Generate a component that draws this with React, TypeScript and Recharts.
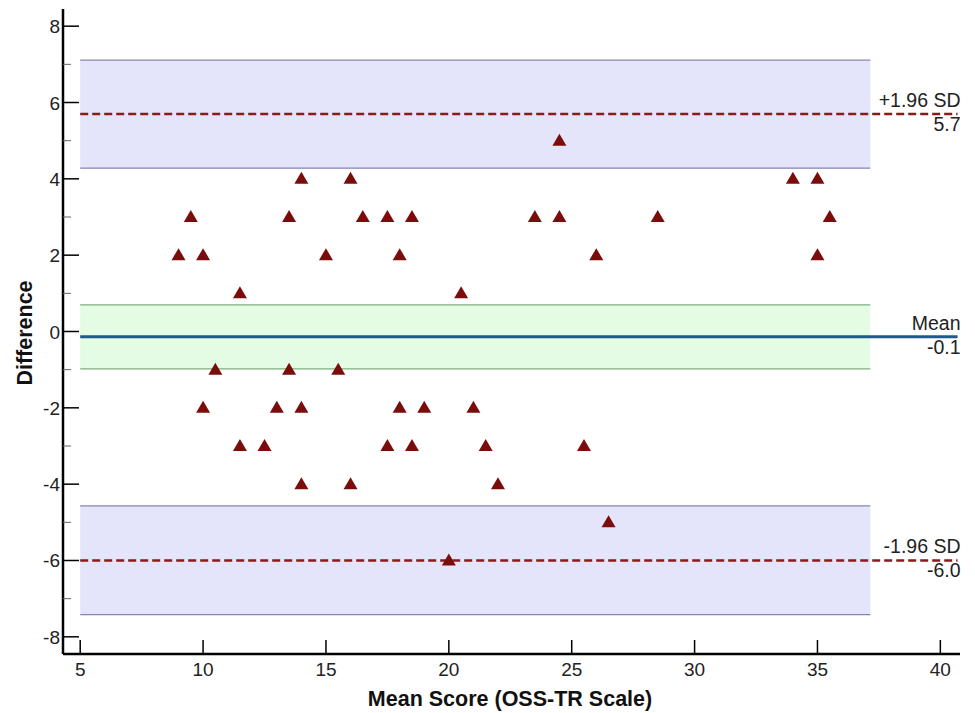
import { ScatterChart, Scatter, XAxis, YAxis, ReferenceArea, ReferenceLine } from 'recharts';

// mean of the two scores (x) and their difference (y)
const meanScores = [
    9, 9.5, 10, 10, 10.5, 11.5, 11.5, 12.5, 13, 13.5, 13.5, 14, 14, 14, 15, 15.5, 16, 16, 16.5, 17.5, 17.5,
    18, 18, 18.5, 18.5, 19, 20, 20.5, 21, 21.5, 22, 23.5, 24.5, 24.5, 25.5, 26, 26.5, 28.5, 34, 35, 35, 35.5,
];
const differences = [
    2, 3, 2, -2, -1, 1, -3, -3, -2, 3, -1, 4, -2, -4, 2, -1, 4, -4, 3, 3, -3,
    2, -2, 3, -3, -2, -6, 1, -2, -3, -4, 3, 5, 3, -3, 2, -5, 3, 4, 4, 2, 3,
];

const xTicks = [5, 10, 15, 20, 25, 30, 35, 40];
const yTicks = [-8, -7, -6, -5, -4, -3, -2, -1, 0, 1, 2, 3, 4, 5, 6, 7, 8];
const xDomain = [4.3, 40.8];
const yDomain = [-8.45, 8.45];

// limits of agreement: [lower CI, line, upper CI]
const upperLimit = [4.28, 5.7, 7.11];
const meanDiff = [-0.98, -0.14, 0.7];
const lowerLimit = [-7.42, -6.0, -4.57];
const bandEnd = 37.15;

const points = meanScores.map((m, i) => ({ x: m, y: differences[i] }));

const font = 'Liberation Sans, Arial, sans-serif';

const XTick = (props: any) => {
    const { x, y, payload } = props;
    return (
        <g>
            <line x1={x} x2={x} y1={y} y2={y - 14} stroke="#000" strokeWidth={1.5} />
            <text x={x} y={y + 22} textAnchor="middle" fontSize={19} fontFamily={font} fill="#222">
                {payload.value}
            </text>
        </g>
    );
};

const YTick = (props: any) => {
    const { x, y, payload } = props;
    const major = payload.value % 2 === 0;
    return (
        <g>
            <line x1={x} x2={x + (major ? 16 : 8)} y1={y} y2={y} stroke={major ? '#000' : '#666'} strokeWidth={major ? 1.5 : 1} />
            {major && (
                <text x={x - 3} y={y + 7} textAnchor="end" fontSize={19} fontFamily={font} fill="#222">
                    {payload.value}
                </text>
            )}
        </g>
    );
};

const Triangle = (props: any) => {
    const { cx, cy } = props;
    return <polygon points={`${cx},${cy - 7} ${cx - 7},${cy + 5} ${cx + 7},${cy + 5}`} fill="#7a0c0c" />;
};

const lineLabel = (top: string, bottom: string) => (props: any) => {
    const { viewBox } = props;
    const right = viewBox.x + viewBox.width + 3;
    return (
        <g fontFamily={font} fontSize={19.5} fill="#222">
            <text x={right} y={viewBox.y - 7} textAnchor="end">{top}</text>
            <text x={right} y={viewBox.y + 17} textAnchor="end">{bottom}</text>
        </g>
    );
};

export default function App() {
    return (
        <div style={{ position: 'absolute', left: 0, top: 0, background: '#fff' }}>
            <ScatterChart width={975} height={713} margin={{ top: 9, right: 15, bottom: 0, left: 18 }}>
                <XAxis
                    type="number"
                    dataKey="x"
                    domain={xDomain}
                    ticks={xTicks}
                    allowDataOverflow
                    interval={0}
                    height={59}
                    tickSize={0}
                    tickMargin={0}
                    tickLine={false}
                    tick={<XTick />}
                    axisLine={{ stroke: '#000', strokeWidth: 2.5 }}
                />
                <YAxis
                    type="number"
                    dataKey="y"
                    domain={yDomain}
                    ticks={yTicks}
                    allowDataOverflow
                    interval={0}
                    width={45}
                    tickSize={0}
                    tickMargin={0}
                    tickLine={false}
                    tick={<YTick />}
                    axisLine={{ stroke: '#000', strokeWidth: 2.5 }}
                />

                <ReferenceArea x1={5} x2={bandEnd} y1={upperLimit[0]} y2={upperLimit[2]} fill="#e4e4fb" fillOpacity={1} stroke="none" />
                <ReferenceArea x1={5} x2={bandEnd} y1={meanDiff[0]} y2={meanDiff[2]} fill="#e4fbe4" fillOpacity={1} stroke="none" />
                <ReferenceArea x1={5} x2={bandEnd} y1={lowerLimit[0]} y2={lowerLimit[2]} fill="#e4e4fb" fillOpacity={1} stroke="none" />

                {[upperLimit[0], upperLimit[2], lowerLimit[0], lowerLimit[2]].map((v, i) => (
                    <ReferenceLine key={`b${i}`} segment={[{ x: 5, y: v }, { x: bandEnd, y: v }]} stroke="#8585b5" strokeWidth={1.2} />
                ))}
                {[meanDiff[0], meanDiff[2]].map((v, i) => (
                    <ReferenceLine key={`g${i}`} segment={[{ x: 5, y: v }, { x: bandEnd, y: v }]} stroke="#7fae7f" strokeWidth={1.2} />
                ))}

                <ReferenceLine
                    segment={[{ x: 5, y: upperLimit[1] }, { x: xDomain[1] - 0.1, y: upperLimit[1] }]}
                    stroke="#8b1a1a"
                    strokeWidth={2.5}
                    strokeDasharray="8 4"
                    label={lineLabel('+1.96 SD', upperLimit[1].toFixed(1))}
                />
                <ReferenceLine
                    segment={[{ x: 5, y: meanDiff[1] }, { x: xDomain[1] - 0.1, y: meanDiff[1] }]}
                    stroke="#1f5a8a"
                    strokeWidth={3}
                    label={lineLabel('Mean', meanDiff[1].toFixed(1))}
                />
                <ReferenceLine
                    segment={[{ x: 5, y: lowerLimit[1] }, { x: xDomain[1] - 0.1, y: lowerLimit[1] }]}
                    stroke="#8b1a1a"
                    strokeWidth={2.5}
                    strokeDasharray="8 4"
                    label={lineLabel('-1.96 SD', lowerLimit[1].toFixed(1))}
                />

                <Scatter data={points} shape={<Triangle />} isAnimationActive={false} />

                <text x={510} y={706} textAnchor="middle" fontSize={21.5} fontWeight="bold" fontFamily={font} fill="#111">
                    Mean Score (OSS-TR Scale)
                </text>
                <text
                    x={25}
                    y={333}
                    transform="rotate(-90 25 333)"
                    textAnchor="middle"
                    dominantBaseline="central"
                    fontSize={21.5}
                    fontWeight="bold"
                    fontFamily={font}
                    fill="#111"
                >
                    Difference
                </text>
            </ScatterChart>
        </div>
    );
}
